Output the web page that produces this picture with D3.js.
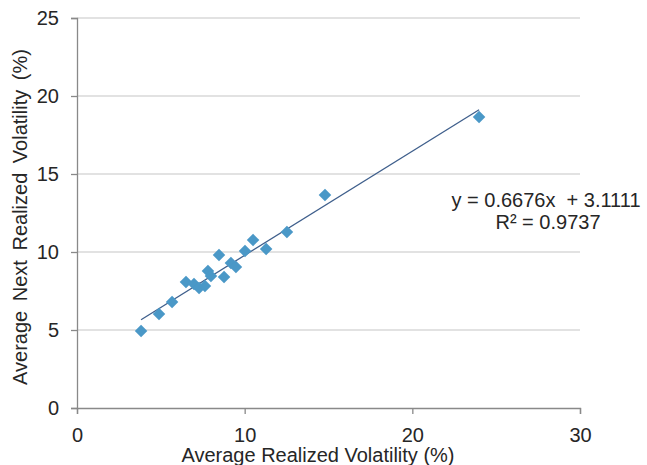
<!DOCTYPE html>
<html><head><meta charset="utf-8">
<script src="https://cdn.jsdelivr.net/npm/d3@7"></script>
<style>body{margin:0;background:#fff}svg{display:block}text{font-family:"Liberation Sans",Arial,sans-serif;fill:#262626;white-space:pre}</style>
</head><body>
<svg id="c" width="647" height="465"></svg>
<script>
const xVals = [3.82,4.89,5.67,6.50,6.98,7.28,7.63,7.81,7.99,8.47,8.77,9.18,9.48,10.02,10.50,11.28,12.52,14.79,23.98];
const yVals = [4.94,6.03,6.79,8.08,7.95,7.69,7.82,8.78,8.46,9.81,8.40,9.29,9.04,10.06,10.77,10.19,11.28,13.65,18.65];
const xTicks = [0,10,20,30];
const yTicks = [0,5,10,15,20,25];
const slope = 0.6676, intercept = 3.1111;
const eqLabel = "y = 0.6676x  + 3.1111";
const r2Label = "R² = 0.9737";
const xTitle = "Average Realized Volatility (%)";
const yTitle = "Average Next Realized Volatility (%)";

const svg = d3.select("#c");
const L=77,R=580,T=18,B=408;
const FS=20;
const x = d3.scaleLinear().domain([0,30]).range([L,R]);
const y = d3.scaleLinear().domain([0,25]).range([B,T]);

// gridlines
svg.append("g").selectAll("line").data(yTicks.filter(d=>d>0)).join("line")
  .attr("x1",L).attr("x2",R).attr("y1",d=>y(d)).attr("y2",d=>y(d))
  .attr("stroke","#d9d9d9").attr("stroke-width",1.5);

// axes
const ya = svg.append("g").attr("transform",`translate(${L},0)`)
  .call(d3.axisLeft(y).tickValues(yTicks).tickSize(6).tickPadding(12));
const xa = svg.append("g").attr("transform",`translate(0,${B})`)
  .call(d3.axisBottom(x).tickValues(xTicks).tickSize(6).tickPadding(14));
[ya,xa].forEach(a=>{
  a.selectAll("path,line").attr("stroke","#898989").attr("stroke-width",1.3);
  a.selectAll("text").attr("font-size",FS).attr("fill","#262626")
   .style("font-family","Liberation Sans, Arial, sans-serif");
});

// trendline
const xmin=d3.min(xVals), xmax=d3.max(xVals);
svg.append("line").attr("x1",x(xmin)).attr("y1",y(slope*xmin+intercept))
  .attr("x2",x(xmax)).attr("y2",y(slope*xmax+intercept))
  .attr("stroke","#3f5f8c").attr("stroke-width",1.3);

// points
const sym = d3.symbol().type(d3.symbolDiamond2).size(100);
svg.append("g").selectAll("path").data(xVals.map((v,i)=>[v,yVals[i]])).join("path")
  .attr("d",sym).attr("transform",d=>`translate(${x(d[0])},${y(d[1])})`)
  .attr("fill","#4a98c7");

// equation
svg.append("text").attr("x",546).attr("y",207).attr("text-anchor","middle").attr("font-size",FS).text(eqLabel);
svg.append("text").attr("x",548).attr("y",229).attr("text-anchor","middle").attr("font-size",FS).text(r2Label);

// titles
svg.append("text").attr("x",318).attr("y",462).attr("text-anchor","middle").attr("font-size",FS).text(xTitle);
svg.append("text").attr("transform","translate(27,217) rotate(-90)").attr("text-anchor","middle").attr("font-size",FS)
  .attr("word-spacing",4).text(yTitle);
</script>
</body></html>
